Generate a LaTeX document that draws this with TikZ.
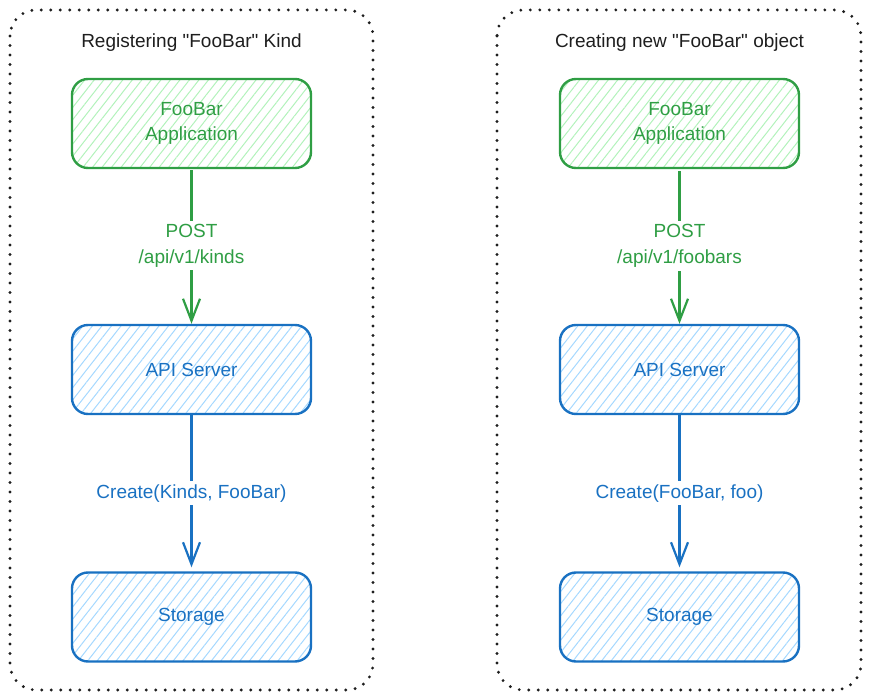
\documentclass[tikz,border=0pt]{standalone}
\usepackage{fontspec}
\setmainfont{Liberation Sans}
\newfontfamily\lsans{Liberation Sans}
\usetikzlibrary{arrows.meta,patterns.meta}
\definecolor{gstroke}{HTML}{2F9E44}
\definecolor{ghatch}{HTML}{B2F2BB}
\definecolor{bstroke}{HTML}{1971C2}
\definecolor{bhatch}{HTML}{A5D8FF}
\definecolor{ink}{HTML}{1E1E1E}
\tikzset{
  frame/.style={draw=ink, line width=3.2pt, line cap=round, dash pattern=on 0pt off 9.5pt, rounded corners=26pt},
  boxbase/.style={rectangle, rounded corners=16pt, line width=2.4pt, minimum width=239pt, minimum height=89pt, align=center, font=\lsans\fontsize{19}{25}\selectfont, inner sep=0pt},
  gbox/.style={boxbase, draw=gstroke, text=gstroke, pattern={Lines[angle=52,distance=7.5pt,line width=1pt]}, pattern color=ghatch},
  bbox/.style={boxbase, draw=bstroke, text=bstroke, pattern={Lines[angle=52,distance=7.5pt,line width=1pt]}, pattern color=bhatch},
  title/.style={text=ink, font=\lsans\fontsize{19}{24}\selectfont, inner sep=0pt},
  garrow/.style={draw=gstroke, line width=2.4pt, -{Straight Barb[length=22pt,width=17pt,line width=2.2pt]}},
  barrow/.style={draw=bstroke, line width=2.4pt, -{Straight Barb[length=22pt,width=17pt,line width=2.2pt]}, shorten >=4pt},
  glabel/.style={fill=white, text=gstroke, align=center, font=\lsans\fontsize{19}{26}\selectfont, inner sep=3pt},
  blabel/.style={fill=white, text=bstroke, align=center, font=\lsans\fontsize{19}{25}\selectfont, inner sep=3pt}
}
\begin{document}
\begin{tikzpicture}[x=1pt,y=-1pt]
\useasboundingbox (0,0) rectangle (870,700);
% frames
\path[frame] (10,10) rectangle (373,690);
\path[frame] (497,10) rectangle (861,690);
% titles
\node[title] (tL) at (191.5,43) {Registering "FooBar" Kind};
\node[title] (tR) at (679.5,43) {Creating new "FooBar" object};
% left column
\node[gbox] (appL) at (191.5,123.5) {FooBar\\Application};
\node[bbox] (apiL) at (191.5,369.5) {API Server};
\node[bbox] (stoL) at (191.5,617) {Storage};
% right column
\node[gbox] (appR) at (679.5,123.5) {FooBar\\Application};
\node[bbox] (apiR) at (679.5,369.5) {API Server};
\node[bbox] (stoR) at (679.5,617) {Storage};
% connectors
\draw[garrow] (appL.south) ++(0,2) coordinate (gL0) -- (apiL.north) node[pos=0.49, glabel] {POST\\/api/v1/kinds};
\draw[barrow] (apiL) -- (stoL) node[midway, blabel] {Create(Kinds, FooBar)};
\draw[garrow] (appR.south) ++(0,2) coordinate (gR0) -- (apiR.north) node[pos=0.49, glabel] {POST\\/api/v1/foobars};
\draw[barrow] (apiR) -- (stoR) node[midway, blabel] {Create(FooBar, foo)};
\end{tikzpicture}
\end{document}
